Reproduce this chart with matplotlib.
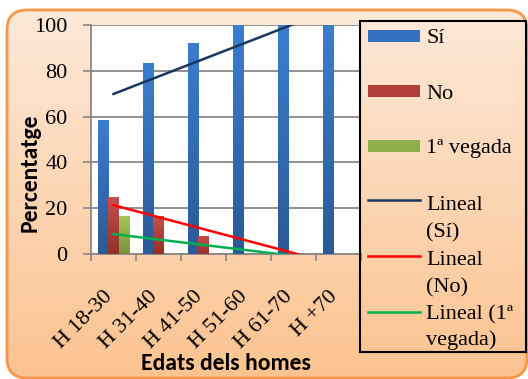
import numpy as np
import matplotlib.pyplot as plt
import matplotlib.transforms as mtransforms
from matplotlib.patches import FancyBboxPatch, Rectangle
from matplotlib.colors import LinearSegmentedColormap

categories = ["H 18-30", "H 31-40", "H 41-50", "H 51-60", "H 61-70", "H +70"]
si = [58.3, 83.3, 92.0, 100.0, 100.0, 100.0]
no = [25.0, 16.6, 8.0, 0.0, 0.0, 0.0]
primera = [16.6, 0.0, 0.0, 0.0, 0.0, 0.0]
yticks = [0, 20, 40, 60, 80, 100]

SERIF = "Liberation Serif"
SANS = "Carlito"

W, H = 528, 379
fig = plt.figure(figsize=(W / 100, H / 100), dpi=100)

# background panel (pixel coordinates, y down)
bg = fig.add_axes([0, 0, 1, 1], zorder=-2)
bg.axis("off")
panel = FancyBboxPatch((7 + 20, 10 + 20), 520 - 40, 368 - 40,
                       boxstyle="round,pad=20", facecolor="none",
                       edgecolor="#F79646", lw=2, zorder=3)
bg.add_patch(panel)
grad = np.linspace(0, 1, 256).reshape(-1, 1)
bg_cmap = LinearSegmentedColormap.from_list("bg", ["#FDEADB", "#FBC390"])
im = bg.imshow(grad, cmap=bg_cmap, extent=(0, W, H, 0), aspect="auto", zorder=1)
im.set_clip_path(panel)
bg.set_xlim(0, W)
bg.set_ylim(H, 0)

# main plot area
ax = fig.add_axes([91 / W, 1 - 254 / H, 270 / W, 229 / H])
ax.set_facecolor("white")

x = np.arange(len(categories))
bw = 0.225
series = [
    (si, -bw, "#3B7ECF", "#2B5A95"),
    (no, 0.0, "#C9504C", "#962E2B"),
    (primera, bw, "#A6C85E", "#76933B"),
]
for vals, off, top, bot in series:
    bars = ax.bar(x + off, vals, width=bw, color=bot, lw=0, zorder=3)
    cmap = LinearSegmentedColormap.from_list("b", [bot, top])
    for b in bars:
        if b.get_height() <= 0:
            continue
        x0, w, h = b.get_x(), b.get_width(), b.get_height()
        g = ax.imshow(grad[::-1], cmap=cmap, extent=(x0, x0 + w, 0, h),
                      aspect="auto", zorder=3.5)
        g.set_clip_path(b)

# linear trend lines
trends = [(si, "#17375E"), (no, "#FF0000"), (primera, "#00B050")]
for vals, col in trends:
    k, c = np.polyfit(x, vals, 1)
    ax.plot([x[0], x[-1]], [k * x[0] + c, k * x[-1] + c], color=col, lw=1.8, zorder=5)

ax.set_xlim(-0.5, len(categories) - 0.5)
ax.set_ylim(0, 100)
ax.tick_params(axis="x", which="major", length=0, pad=24)
ax.tick_params(axis="x", which="minor", length=5, color="#888888", width=1.2)
ax.tick_params(axis="y", length=6, color="#888888", width=1.2, pad=11)
ax.set_yticks(yticks)
ax.set_yticklabels([str(v) for v in yticks], family=SERIF, fontsize=16)
ax.set_xticks(x)
ax.set_xticklabels(categories, family=SERIF, fontsize=16, rotation=45,
                   ha="right", va="top")
ax.set_xticks(np.arange(-0.5, len(categories)), minor=True)
shift = mtransforms.ScaledTranslation(3 / 100, 0, fig.dpi_scale_trans)
for lab in ax.get_xticklabels():
    lab.set_transform(lab.get_transform() + shift)
ax.grid(axis="y", color="#888888", lw=1.3, zorder=1)
ax.set_axisbelow(True)
for s in ("top", "right"):
    ax.spines[s].set_visible(False)
for s in ("left", "bottom"):
    ax.spines[s].set_color("#888888")
    ax.spines[s].set_linewidth(1.3)

ax.set_ylabel("Percentatge", family=SANS, fontweight="bold", fontsize=17,
              va="center")
ax.yaxis.set_label_coords(-0.226, 0.354)
ax.set_xlabel("Edats dels homes", family=SANS, fontweight="bold", fontsize=17,
              va="center")
ax.xaxis.set_label_coords(0.5, -0.48)

# legend drawn in pixel coordinates
lg = fig.add_axes([0, 0, 1, 1], zorder=5)
lg.set_xlim(0, W)
lg.set_ylim(H, 0)
lg.axis("off")
lg.add_patch(Rectangle((360, 21), 166, 331, facecolor="none",
                       edgecolor="black", lw=1.5))
patch_entries = [("Sí", "#3470BD", 36, 43), ("No", "#B03E3B", 91, 99),
                 ("1ª vegada", "#8DB04B", 146, 153)]
for label, col, yc, base in patch_entries:
    lg.add_patch(Rectangle((368, yc - 6), 52, 12, facecolor=col, lw=0))
    lg.text(426, base, label, family=SERIF, fontsize=16, va="baseline")
line_entries = [(["Lineal", "(Sí)"], "#17375E", 200, [210, 237]),
                (["Lineal", "(No)"], "#FF0000", 256, [265, 292]),
                (["Lineal (1ª", "vegada)"], "#00B050", 312, [319, 345])]
for lines, col, yl, bases in line_entries:
    lg.plot([368, 420], [yl, yl], color=col, lw=1.8)
    for t, b in zip(lines, bases):
        lg.text(426, b, t, family=SERIF, fontsize=16, va="baseline")

fig.savefig("out.png", dpi=100)
